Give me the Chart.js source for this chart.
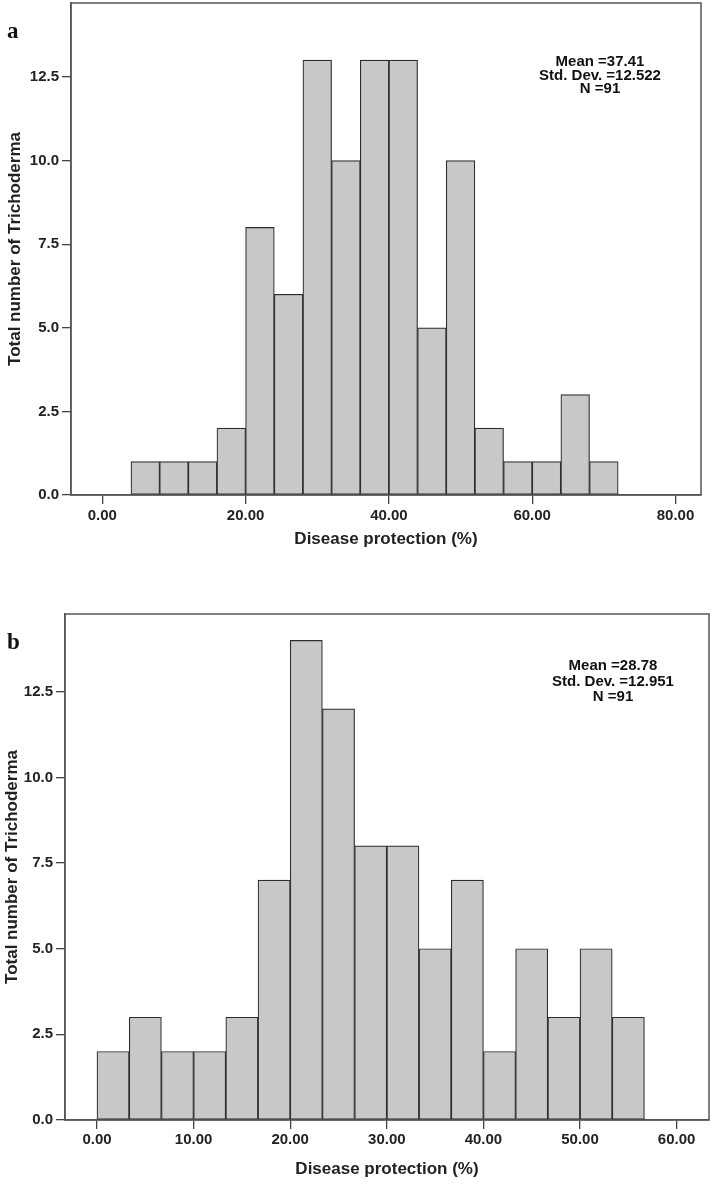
<!DOCTYPE html>
<html lang="en">
<head>
<meta charset="utf-8">
<title>Disease protection histograms</title>
<script src="https://cdn.jsdelivr.net/npm/chart.js@4.4.0/dist/chart.umd.min.js"></script>
<style>
  body { margin: 0; background: #fff; }
  .panel { position: absolute; left: 0; }
  canvas { display: block; }
</style>
</head>
<body>
<div class="panel" style="top:0"><canvas id="chartA" width="712" height="556"></canvas></div>
<div class="panel" style="top:574px"><canvas id="chartB" width="712" height="610"></canvas></div>
<script>
// panel a: bins of 4 %
const binEdgesA = [4, 8, 12, 16, 20, 24, 28, 32, 36, 40, 44, 48, 52, 56, 60, 64, 68, 72];
const countsA = [1, 1, 1, 2, 8, 6, 13, 10, 13, 13, 5, 10, 2, 1, 1, 3, 1];
const statsA = ['Mean =37.41', 'Std. Dev. =12.522', 'N =91'];
const xTicksA = [0, 20, 40, 60, 80];

// panel b: bins of 3.33 %
const binEdgesB = [0, 3.33, 6.67, 10, 13.33, 16.67, 20, 23.33, 26.67, 30, 33.33, 36.67, 40, 43.33, 46.67, 50, 53.33, 56.67];
const countsB = [2, 3, 2, 2, 3, 7, 14, 12, 8, 8, 5, 7, 2, 5, 3, 5, 3];
const statsB = ['Mean =28.78', 'Std. Dev. =12.951', 'N =91'];
const xTicksB = [0, 10, 20, 30, 40, 50, 60];

const yTicks = [0, 2.5, 5, 7.5, 10, 12.5];

Chart.defaults.font.family = '"Liberation Sans", Arial, sans-serif';

// frame round the plot, stats box and panel letter
const decor = {
  id: 'decor',
  afterDraw(chart, args, o) {
    const { ctx, chartArea: a } = chart;
    ctx.save();
    ctx.strokeStyle = '#555';
    ctx.lineWidth = 1.5;
    ctx.strokeRect(a.left, a.top, a.right - a.left, a.bottom - a.top);
    ctx.fillStyle = '#111';
    ctx.font = 'bold 15px "Liberation Sans", Arial, sans-serif';
    ctx.textAlign = 'center';
    ctx.textBaseline = 'middle';
    o.stats.forEach((s, i) => ctx.fillText(s, a.right - o.statsRight, a.top + o.statsTop + i * o.statsGap));
    ctx.font = 'bold 23px "Liberation Serif", "Times New Roman", serif';
    ctx.textAlign = 'left';
    ctx.textBaseline = 'alphabetic';
    ctx.fillText(o.letter, 7, o.letterY);
    ctx.restore();
  }
};

function histogram(id, edges, counts, xTicks, v, decorOpts) {
  const centers = counts.map((c, i) => (edges[i] + edges[i + 1]) / 2);
  const tickGrid = { drawOnChartArea: false, offset: false, tickLength: 9, color: '#444', lineWidth: 1.3 };
  return new Chart(document.getElementById(id), {
    type: 'bar',
    data: {
      datasets: [{
        data: centers.map((x, i) => ({ x: x, y: counts[i] })),
        backgroundColor: '#c8c8c8',
        borderColor: '#2e2e2e',
        borderWidth: 1.2,
        borderSkipped: false,
        barPercentage: 1,
        categoryPercentage: 1
      }]
    },
    options: {
      responsive: false,
      animation: false,
      devicePixelRatio: 1,
      layout: { padding: { top: v.top, right: v.right, left: 0, bottom: 0 } },
      plugins: { legend: { display: false }, tooltip: { enabled: false }, decor: decorOpts },
      scales: {
        x: {
          type: 'linear', min: v.xMin, max: v.xMax, offset: false,
          afterBuildTicks: s => { s.ticks = xTicks.map(t => ({ value: t })); },
          afterFit: s => { s.height = v.xAxisH; s.paddingLeft = 0; s.paddingRight = 0; },
          grid: tickGrid,
          border: { color: '#555', width: 1.5 },
          ticks: { autoSkip: false, maxRotation: 0, padding: v.xPad, color: '#222',
                   font: { size: 15, weight: 'bold' }, callback: val => val.toFixed(2) },
          title: { display: true, text: 'Disease protection (%)', color: '#222',
                   font: { size: 17, weight: 'bold' }, padding: { top: 0, bottom: v.xTitlePad } }
        },
        y: {
          min: 0, max: v.yMax,
          afterBuildTicks: s => { s.ticks = yTicks.map(t => ({ value: t })); },
          afterFit: s => { s.width = v.yAxisW; s.paddingTop = 0; s.paddingBottom = 0; },
          grid: tickGrid,
          border: { color: '#555', width: 1.5 },
          ticks: { padding: 3, color: '#222', font: { size: 15, weight: 'bold' },
                   callback: val => val.toFixed(1) },
          title: { display: true, text: 'Total number of Trichoderma', color: '#222',
                   font: { size: 17, weight: 'bold' }, padding: { top: v.yTitlePad, bottom: 0 } }
        }
      }
    },
    plugins: [decor]
  });
}

histogram('chartA', binEdgesA, countsA, xTicksA,
  { top: 3, right: 11, xMin: -4.37, xMax: 83.56, yMax: 14.71, xAxisH: 61, xPad: 3, xTitlePad: 6, yAxisW: 71, yTitlePad: 5 },
  { stats: statsA, statsRight: 101, statsTop: 59, statsGap: 13.5, letter: 'a', letterY: 38 });

histogram('chartB', binEdgesB, countsB, xTicksB,
  { top: 40, right: 3, xMin: -3.31, xMax: 63.35, yMax: 14.77, xAxisH: 64, xPad: 2, xTitlePad: 4, yAxisW: 65, yTitlePad: 2 },
  { stats: statsB, statsRight: 96, statsTop: 52, statsGap: 15.5, letter: 'b', letterY: 75 });
</script>
</body>
</html>
